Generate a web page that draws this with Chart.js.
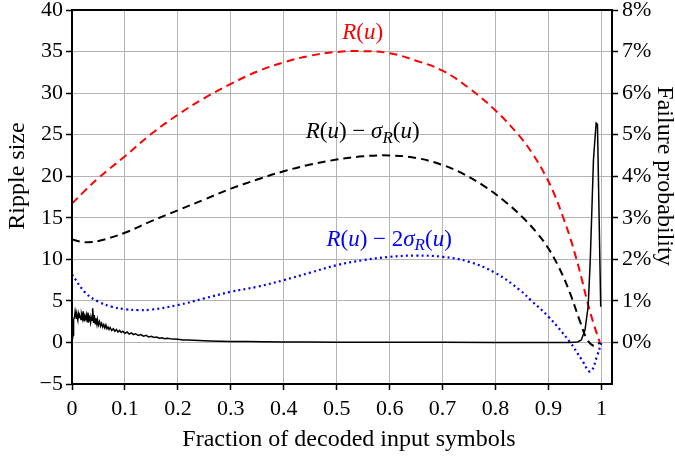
<!DOCTYPE html>
<html><head><meta charset="utf-8">
<script src="https://cdn.jsdelivr.net/npm/chart.js@4"></script>
<style>html,body{margin:0;padding:0;background:#fff}canvas{display:block}</style>
</head><body>
<canvas id="c" width="675" height="464"></canvas>
<script>
// ---- tick values ----
const xTicks = [0, 0.1, 0.2, 0.3, 0.4, 0.5, 0.6, 0.7, 0.8, 0.9, 1];
const leftTicks = [-5, 0, 5, 10, 15, 20, 25, 30, 35, 40];
const rightTicks = [0, 1, 2, 3, 4, 5, 6, 7, 8];

// ---- R(u) (red dashed) ----
const rU   = [0, 0.025, 0.05, 0.1, 0.15, 0.2, 0.25, 0.3, 0.35, 0.4, 0.45, 0.5, 0.55, 0.6, 0.65, 0.7, 0.75, 0.8, 0.843, 0.87, 0.895, 0.912, 0.928, 0.941, 0.953, 0.963, 0.973, 0.985, 0.997];
const rVal = [16.7, 18.3, 19.8, 22.4, 25.1, 27.4, 29.4, 31.1, 32.6, 33.7, 34.5, 34.95, 35.05, 34.8, 33.9, 32.7, 30.6, 27.9, 25.0, 22.7, 20.0, 17.7, 15.0, 12.6, 10.0, 7.6, 5.0, 2.3, 0];

// ---- R(u) - sigma_R(u) (black dashed) ----
const sU   = [0, 0.015, 0.03, 0.05, 0.1, 0.15, 0.2, 0.25, 0.3, 0.35, 0.4, 0.45, 0.5, 0.55, 0.6, 0.65, 0.7, 0.74, 0.78, 0.82, 0.852, 0.88, 0.9, 0.92, 0.94, 0.96, 0.972, 0.985, 0.998];
const sVal = [12.4, 12.15, 12.05, 12.2, 13.2, 14.6, 15.9, 17.2, 18.5, 19.6, 20.6, 21.4, 22.0, 22.4, 22.5, 22.2, 21.35, 20.25, 18.75, 16.85, 15.0, 13.05, 11.3, 9.0, 6.05, 2.45, 0.5, -0.4, 0];

// ---- R(u) - 2 sigma_R(u) (blue dotted) ----
const bU   = [0, 0.025, 0.05, 0.075, 0.1, 0.125, 0.15, 0.2, 0.25, 0.3, 0.35, 0.4, 0.45, 0.5, 0.55, 0.6, 0.65, 0.7, 0.75, 0.8, 0.846, 0.868, 0.9, 0.941, 0.963, 0.979, 0.992, 1.0];
const bVal = [8.2, 6.0, 4.9, 4.3, 4.0, 3.9, 3.95, 4.5, 5.3, 6.1, 6.7, 7.5, 8.4, 9.3, 9.9, 10.3, 10.45, 10.3, 9.7, 8.35, 6.3, 5.0, 3.1, 0, -2.1, -3.5, -1.6, 0];

// ---- failure probability in % (black solid, right axis) ----
const failU = [0, 0.002, 0.003, 0.005, 0.006, 0.008, 0.009, 0.011, 0.012, 0.014, 0.015, 0.017, 0.018, 0.020, 0.021, 0.023, 0.024, 0.026, 0.027, 0.029, 0.030, 0.032, 0.033, 0.035, 0.036, 0.038, 0.039, 0.041, 0.042, 0.044, 0.045, 0.047, 0.048, 0.050, 0.052, 0.054, 0.056, 0.058, 0.060, 0.062, 0.064, 0.066, 0.068, 0.070, 0.072, 0.075, 0.078, 0.081, 0.084, 0.087, 0.090, 0.093, 0.096, 0.100, 0.104, 0.108, 0.112, 0.116, 0.120, 0.125, 0.130, 0.135, 0.140, 0.145, 0.150, 0.155, 0.16, 0.165, 0.17, 0.175, 0.18, 0.19, 0.20, 0.21, 0.22, 0.24, 0.26, 0.28, 0.30, 0.33, 0.36, 0.40, 0.45, 0.50, 0.60, 0.70, 0.80, 0.90, 0.94, 0.955, 0.962, 0.969, 0.975, 0.979, 0.982, 0.985, 0.990, 0.9925, 0.9987];
const failPct = [0, 0.18, 0.55, 0.62, 0.74, 0.58, 0.66, 0.54, 0.7, 0.6, 0.63, 0.55, 0.68, 0.57, 0.75, 0.52, 0.64, 0.58, 0.66, 0.5, 0.72, 0.55, 0.6, 0.48, 0.62, 0.53, 0.82, 0.47, 0.66, 0.45, 0.58, 0.44, 0.55, 0.42, 0.5, 0.39, 0.46, 0.37, 0.43, 0.35, 0.42, 0.33, 0.37, 0.31, 0.36, 0.29, 0.33, 0.27, 0.31, 0.25, 0.29, 0.24, 0.27, 0.22, 0.25, 0.2, 0.23, 0.19, 0.21, 0.17, 0.19, 0.15, 0.17, 0.13, 0.15, 0.12, 0.13, 0.1, 0.11, 0.09, 0.1, 0.08, 0.075, 0.06, 0.06, 0.045, 0.035, 0.03, 0.025, 0.02, 0.015, 0.01, 0.008, 0.005, 0.003, 0.002, 0.001, 0, 0, 0.01, 0.06, 0.3, 0.87, 2.0, 3.2, 4.4, 5.28, 5.25, 0.86];

// ---- curve labels (anchor in data coords) ----
const labelU = [0.549, 0.549, 0.599];
const labelV = [37.4, 25.4, 12.45];

const pts = (xs, ys) => xs.map((x, i) => ({x: x, y: ys[i]}));
const SERIF = '"Liberation Serif", "Times New Roman", serif';
const GRID = '#b4b4b4';

function drawMath(ctx, parts, cx, cy, size, color) {
  const fontFor = s => s === 'n' ? `${size}px ${SERIF}` : s === 'i' ? `italic ${size}px ${SERIF}` : `italic ${Math.round(size*0.72)}px ${SERIF}`;
  let w = 0;
  parts.forEach(p => { ctx.font = fontFor(p[1]); w += ctx.measureText(p[0]).width; });
  let x = cx - w / 2;
  ctx.fillStyle = color;
  ctx.textBaseline = 'alphabetic';
  ctx.textAlign = 'left';
  const base = cy + size * 0.3;
  parts.forEach(p => {
    ctx.font = fontFor(p[1]);
    const y = p[1] === 's' ? base + size * 0.2 : base;
    ctx.fillText(p[0], x, y);
    x += ctx.measureText(p[0]).width;
  });
}

const overlay = {
  id: 'overlay',
  afterDraw(chart) {
    const {ctx, chartArea: a, scales} = chart;
    ctx.save();
    ctx.strokeStyle = '#000';
    ctx.lineWidth = 2;
    ctx.strokeRect(a.left, a.top, a.right - a.left, a.bottom - a.top);
    ctx.fillStyle = '#000';
    ctx.font = `24px ${SERIF}`;
    ctx.textAlign = 'center';
    ctx.textBaseline = 'middle';
    ctx.fillText('Fraction of decoded input symbols', (a.left + a.right) / 2 + 7, 440);
    ctx.save();
    ctx.translate(18, 176);
    ctx.rotate(-Math.PI / 2);
    ctx.fillText('Ripple size', 0, 0);
    ctx.restore();
    ctx.save();
    ctx.translate(664, 176);
    ctx.rotate(Math.PI / 2);
    ctx.fillText('Failure probability', 0, 0);
    ctx.restore();
    const X = scales.x, Y = scales.y;
    const size = 23;
    drawMath(ctx, [['R','i'],['(','n'],['u','i'],[')','n']], X.getPixelForValue(labelU[0]), Y.getPixelForValue(labelV[0]), size, '#ff0000');
    drawMath(ctx, [['R','i'],['(','n'],['u','i'],[')','n'],[' \u2212 ','n'],['\u03c3','i'],['R','s'],['(','n'],['u','i'],[')','n']], X.getPixelForValue(labelU[1]), Y.getPixelForValue(labelV[1]), size, '#000000');
    drawMath(ctx, [['R','i'],['(','n'],['u','i'],[')','n'],[' \u2212 ','n'],['2','n'],['\u03c3','i'],['R','s'],['(','n'],['u','i'],[')','n']], X.getPixelForValue(labelU[2]), Y.getPixelForValue(labelV[2]), size, '#0000ff');
    ctx.restore();
  }
};

const fitY = w => s => { s.width = w; s.paddingTop = 0; s.paddingBottom = 0; };

new Chart(document.getElementById('c'), {
  type: 'line',
  data: {
    datasets: [
      { data: pts(failU, failPct), yAxisID: 'y1', borderColor: '#000', borderWidth: 1.5, pointRadius: 0, tension: 0, order: 0 },
      { data: pts(rU, rVal), yAxisID: 'y', borderColor: '#ff0000', borderWidth: 2, borderDash: [8, 5], pointRadius: 0, tension: 0.4, order: 1 },
      { data: pts(sU, sVal), yAxisID: 'y', borderColor: '#000', borderWidth: 2, borderDash: [8, 5], pointRadius: 0, tension: 0.4, order: 2 },
      { data: pts(bU, bVal), yAxisID: 'y', borderColor: '#0000ff', borderWidth: 2.2, borderDash: [2, 3.2], pointRadius: 0, tension: 0.4, order: 3 }
    ]
  },
  options: {
    responsive: false,
    animation: false,
    devicePixelRatio: 1,
    layout: { padding: { top: 10, left: 0, right: 0, bottom: 0 } },
    plugins: { legend: { display: false }, tooltip: { enabled: false } },
    scales: {
      x: {
        type: 'linear', min: 0, max: 1.02,
        afterBuildTicks: s => { s.ticks = xTicks.map(v => ({value: v})); },
        afterFit: s => { s.height = 80; s.paddingLeft = 0; s.paddingRight = 0; },
        grid: { color: GRID, lineWidth: 1, tickColor: '#000', tickLength: 6, tickWidth: 1.5 },
        border: { color: '#000', width: 2 },
        ticks: { color: '#000', font: { family: SERIF, size: 22 }, padding: 6, maxRotation: 0, autoSkip: false, callback: v => String(v) }
      },
      y: {
        type: 'linear', position: 'left', min: -5, max: 40,
        afterBuildTicks: s => { s.ticks = leftTicks.map(v => ({value: v})); },
        afterFit: fitY(72),
        grid: { color: GRID, lineWidth: 1, tickColor: '#000', tickLength: 6, tickWidth: 1.5 },
        border: { color: '#000', width: 2 },
        ticks: { color: '#000', font: { family: SERIF, size: 22 }, padding: 3, autoSkip: false, callback: v => v < 0 ? '\u2212' + Math.abs(v) : String(v) }
      },
      y1: {
        type: 'linear', position: 'right', min: -1, max: 8,
        afterBuildTicks: s => { s.ticks = rightTicks.map(v => ({value: v})); },
        afterFit: fitY(63),
        grid: { drawOnChartArea: false, tickColor: '#000', tickLength: 6, tickWidth: 1.5 },
        border: { color: '#000', width: 2 },
        ticks: { color: '#000', font: { family: SERIF, size: 22 }, padding: 4, autoSkip: false, callback: v => v + '%' }
      }
    }
  },
  plugins: [overlay]
});
</script>
</body></html>
